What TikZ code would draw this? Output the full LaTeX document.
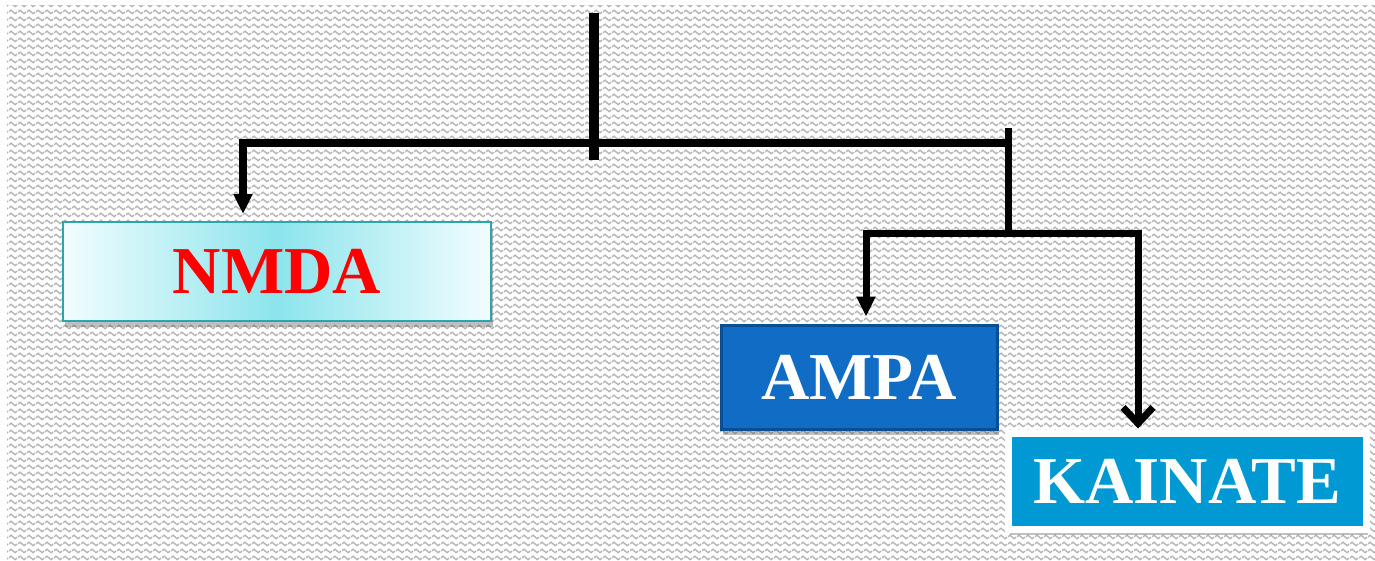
\documentclass[tikz,border=0pt]{standalone}
\usepackage{fontspec}
\setmainfont{Liberation Serif}
\usetikzlibrary{arrows.meta,shadows,patterns.meta,calc}

\definecolor{wavegray}{HTML}{B4B4B4}
\definecolor{nmdaedge}{HTML}{2AA6AE}
\definecolor{nmdamid}{HTML}{8CE4EC}
\definecolor{nmdaside}{HTML}{F2FDFE}
\definecolor{ampafill}{HTML}{106CC4}
\definecolor{ampaedge}{HTML}{0A4E96}
\definecolor{kainfill}{HTML}{0099D4}

% one tile of the wavy paper texture
\tikzdeclarepattern{
  name=paperwaves,
  type=uncolored,
  bounding box={(0pt,0pt) and (9pt,7pt)},
  tile size={(9pt,7pt)},
  code={
    \draw[line width=1.5pt] (0pt,3.5pt) sin (2.25pt,5.5pt) cos (4.5pt,3.5pt)
      sin (6.75pt,1.5pt) cos (9pt,3.5pt);
  }
}

\tikzset{
  x=1pt, y=-1pt,
  label font/.style={font=\fontsize{67}{67}\selectfont\bfseries},
  boxshadow/.style={drop shadow={shadow xshift=2pt, shadow yshift=-6pt, opacity=0.35, fill=black!70}},
  trunk/.style={line width=10pt, line cap=butt},
  mainline/.style={line width=8pt, line join=miter},
  branch/.style={line width=7pt, line join=miter},
  solidtip/.style={-{Triangle[width=18pt,length=20pt]}},
  barbtip/.style={-{Straight Barb[width=30pt,length=16pt,line join=miter]}},
}

\begin{document}
\begin{tikzpicture}
  \useasboundingbox (0,0) rectangle (1375,560);
  \fill[white] (0,0) rectangle (1375,560);

  % wavy paper texture
  \fill[pattern=paperwaves, pattern color=wavegray] (7,5) rectangle (1375,560);

  % receptor boxes
  \node[boxshadow, draw=nmdaedge, line width=2pt, shading=axis, shading angle=90,
        left color=nmdaside, right color=nmdaside, middle color=nmdamid,
        minimum width=428pt, minimum height=99pt, label font, text=red]
        (nmda) at (277,271.5) {NMDA};

  \node[boxshadow, fill=ampafill, draw=ampaedge, line width=3pt,
        minimum width=276pt, minimum height=104pt, label font, text=white]
        (ampa) at (859,377) {AMPA};

  \node[boxshadow, fill=kainfill, draw=white, line width=7pt,
        minimum width=358pt, minimum height=96pt, label font, text=white]
        (kain) at (1187,481) {KAINATE};

  % connector points
  \coordinate (top) at (594,13);
  \coordinate (hub) at (594,160);
  \coordinate (lft) at (243,143);
  \coordinate (rgt) at (1008,143);
  \coordinate (rtop) at (1008,128);
  \coordinate (rj) at (1008,236);
  \coordinate (al) at (866,233);
  \coordinate (kr) at (1138,233);

  % tree of connectors
  \draw[trunk] (top) -- (hub);
  \draw[mainline, solidtip, shorten >=7pt] (rgt) -- (lft) -- (lft |- nmda.north);
  \draw[branch, solidtip, shorten >=7pt] (kr) -- (al) -- (al |- ampa.north);
  \draw[branch] (rtop) -- (rj);
  \draw[branch, barbtip, shorten >=1pt] (al) -- (kr) -- (kr |- kain.north);
\end{tikzpicture}
\end{document}
